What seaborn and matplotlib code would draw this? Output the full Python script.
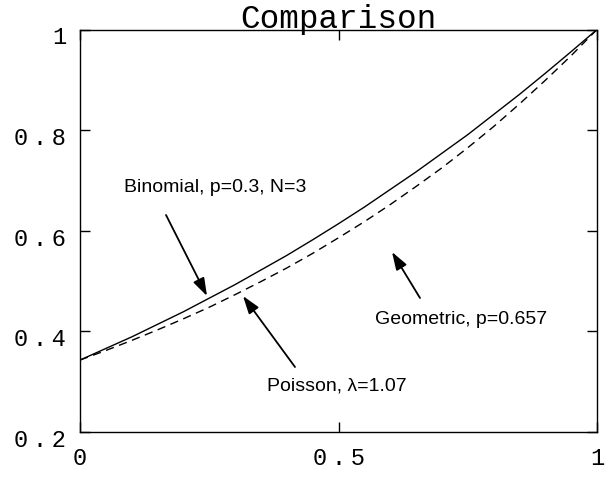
import matplotlib
matplotlib.use("Agg")
import matplotlib.pyplot as plt
import matplotlib.transforms as mtransforms
import seaborn as sns
import pandas as pd

s_values = [0.00, 0.05, 0.10, 0.15, 0.20, 0.25, 0.30, 0.35, 0.40, 0.45, 0.50,
            0.55, 0.60, 0.65, 0.70, 0.75, 0.80, 0.85, 0.90, 0.95, 1.00]
binomial = [0.343, 0.366, 0.389, 0.414, 0.439, 0.466, 0.493, 0.522, 0.551, 0.582, 0.614,
            0.647, 0.682, 0.717, 0.754, 0.791, 0.831, 0.871, 0.913, 0.956, 1.000]
poisson = [0.343, 0.362, 0.382, 0.403, 0.425, 0.448, 0.473, 0.499, 0.526, 0.555, 0.586,
           0.618, 0.652, 0.688, 0.725, 0.765, 0.807, 0.852, 0.899, 0.948, 1.000]
x_ticks = [0, 0.5, 1]
x_tick_labels = ["0", "0\u2009.\u20095", "1"]
y_ticks = [0.2, 0.4, 0.6, 0.8, 1.0]
y_tick_labels = ["0\u2009.\u20092", "0\u2009.\u20094", "0\u2009.\u20096", "0\u2009.\u20098", "1"]
title = "Comparison"
label_binomial = "Binomial, p=0.3, N=3"
label_poisson = "Poisson, λ=1.07"
label_geometric = "Geometric, p=0.657"

df = pd.DataFrame({
    "s": s_values * 2,
    "G": binomial + poisson,
    "dist": ["Binomial"] * len(s_values) + ["Poisson"] * len(s_values),
})

sns.set_theme(style="white")
plt.rcParams["font.family"] = ["Liberation Mono", "DejaVu Sans"]

fig = plt.figure(figsize=(6.13, 4.81), dpi=100)
L, R, T, B = 80, 597, 30.5, 433
ax = fig.add_axes([L / 613, (481 - B) / 481, (R - L) / 613, (B - T) / 481])

sns.lineplot(data=df, x="s", y="G", hue="dist", style="dist",
             palette={"Binomial": "black", "Poisson": "black"},
             dashes={"Binomial": "", "Poisson": (6, 4)},
             linewidth=1.0, legend=False, ax=ax)

ax.set_xlim(0, 1)
ax.set_ylim(0.2, 1.0)
ax.set_xlabel("")
ax.set_ylabel("")

ax.set_xticks(x_ticks)
ax.set_xticklabels(x_tick_labels)
ax.set_yticks(y_ticks)
ax.set_yticklabels(y_tick_labels)
ax.tick_params(axis="both", direction="in", length=7, width=1, color="black",
               labelsize=17, labelcolor="black", pad=10,
               top=True, right=True, bottom=True, left=True)
for lab in ax.get_yticklabels():
    lab.set_family(["Liberation Mono", "DejaVu Sans"])
    lab.set_transform(lab.get_transform() + mtransforms.ScaledTranslation(0, -5 / 100, fig.dpi_scale_trans))
for lab in ax.get_xticklabels():
    lab.set_family(["Liberation Mono", "DejaVu Sans"])
for sp in ax.spines.values():
    sp.set_color("black")
    sp.set_linewidth(1.0)
    sp.set_visible(True)

ax.set_title(title, fontsize=23.5, color="black", pad=2, family=["Liberation Mono"])

txt_font = dict(fontsize=14, color="black", family=["Liberation Sans", "DejaVu Sans"],
                ha="center", va="center")
arrow = dict(arrowstyle="-|>,head_length=0.9,head_width=0.3", color="black", lw=1.3,
             shrinkA=0, shrinkB=0)

def px(xp, yp):
    return ((xp - L) / (R - L), 0.2 + (B - yp) / (B - T) * 0.8)

ax.text(*px(215, 188), label_binomial, **txt_font)
ax.annotate("", xy=px(207, 297), xytext=px(166, 216), arrowprops=arrow)

ax.text(*px(337, 386), label_poisson, **txt_font)
ax.annotate("", xy=px(243, 297), xytext=px(295, 368), arrowprops=arrow)

ax.text(*px(461, 320), label_geometric, **txt_font)
ax.annotate("", xy=px(392, 253), xytext=px(420, 299), arrowprops=arrow)

fig.savefig("out.png", dpi=100)
